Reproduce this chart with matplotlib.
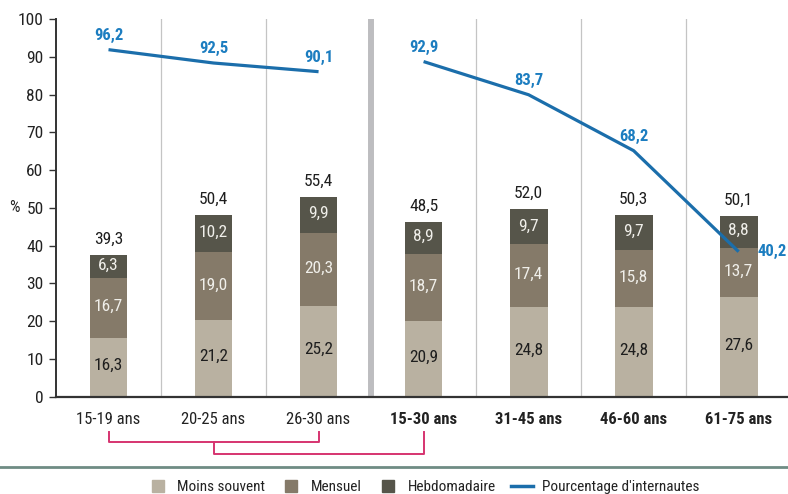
import numpy as np
import matplotlib
matplotlib.use("Agg")
import matplotlib.pyplot as plt
from matplotlib import font_manager
from matplotlib.lines import Line2D

# look for a narrow font, the original uses a condensed face
entries = font_manager.fontManager.ttflist
names = {f.name for f in entries}
FONT, STRETCH, NARROW = 'DejaVu Sans', 'normal', False
for p in ['Liberation Sans Narrow', 'Roboto Condensed', 'Noto Sans Condensed', 'Open Sans Condensed',
          'DejaVu Sans Condensed', 'Noto Sans SemiCondensed', 'Open Sans SemiCondensed']:
    if p in names:
        FONT, NARROW = p, True
        break
if not NARROW:
    for f in entries:
        if str(f.stretch) in ('condensed', 'semi-condensed', 'extra-condensed'):
            FONT, STRETCH, NARROW = f.name, str(f.stretch), True
            break
plt.rcParams['font.family'] = [FONT, 'DejaVu Sans']
plt.rcParams['font.stretch'] = STRETCH
K = 1.0 if NARROW else 0.86

# data
categories = ['15-19 ans', '20-25 ans', '26-30 ans', '15-30 ans', '31-45 ans', '46-60 ans', '61-75 ans']
moins_souvent = [16.3, 21.2, 25.2, 20.9, 24.8, 24.8, 27.6]
mensuel = [16.7, 19.0, 20.3, 18.7, 17.4, 15.8, 13.7]
hebdomadaire = [6.3, 10.2, 9.9, 8.9, 9.7, 9.7, 8.8]
totaux = [39.3, 50.4, 55.4, 48.5, 52.0, 50.3, 50.1]
internautes = [96.2, 92.5, 90.1, 92.9, 83.7, 68.2, 40.2]

C_LIGHT = '#b9b1a1'
C_MID = '#857a69'
C_DARK = '#56554a'
C_BLUE = '#1b6eab'
C_BLUE_TXT = '#1c7dc0'
C_PINK = '#d63470'

# the chart's data sits a bit below the tick scale in the original
TOP = 104.7
def fmt(v):
    return f'{v:.1f}'.replace('.', ',')

fig = plt.figure(figsize=(7.88, 4.94), dpi=100)
ax = fig.add_axes([56/788, 97.3/494, 732/788, 377.7/494])
x = np.arange(len(categories))
w = 0.36

ax.set_xlim(-0.5, 6.47)
ax.set_ylim(0, TOP)

# vertical separators
for xv in [0.5, 1.5, 3.5, 4.5, 5.5]:
    ax.axvline(xv, color='#c4c4c4', lw=0.9, zorder=0)
ax.axvline(2.5, color='#bdbdc0', lw=4.3, zorder=0)

ax.bar(x, moins_souvent, w, color=C_LIGHT, zorder=2)
ax.bar(x, mensuel, w, bottom=moins_souvent, color=C_MID, zorder=2)
bot3 = np.array(moins_souvent) + np.array(mensuel)
ax.bar(x, hebdomadaire, w, bottom=bot3, color=C_DARK, zorder=2)

fs = 12.5 * K
for i in range(len(x)):
    ax.text(x[i], moins_souvent[i] / 2 + 0.5, fmt(moins_souvent[i]), ha='center', va='center',
            fontsize=fs, color='#1e1e1e', zorder=4)
    ax.text(x[i], moins_souvent[i] + mensuel[i] / 2 + 0.3, fmt(mensuel[i]), ha='center', va='center',
            fontsize=fs, color='#f0efea', zorder=4)
    ax.text(x[i], bot3[i] + hebdomadaire[i] / 2 + 0.3, fmt(hebdomadaire[i]), ha='center', va='center',
            fontsize=fs, color='#f0efea', zorder=4)
    ax.annotate(fmt(totaux[i]), (x[i], bot3[i] + hebdomadaire[i]), xytext=(0, 6),
                textcoords='offset points', ha='center', va='bottom', fontsize=fs, color='#1e1e1e')

# line, broken between the two groups
ax.plot(x[:3], internautes[:3], color=C_BLUE, lw=2.3, zorder=5, solid_capstyle='butt')
ax.plot(x[3:], internautes[3:], color=C_BLUE, lw=2.3, zorder=5, solid_capstyle='butt')
for i in range(len(x)):
    if i == len(x) - 1:
        ax.annotate(fmt(internautes[i]), (x[i], internautes[i]), xytext=(13.5, 0),
                    textcoords='offset points', ha='left', va='center', fontsize=12 * K,
                    fontweight='bold', color=C_BLUE_TXT, zorder=6)
    else:
        ax.annotate(fmt(internautes[i]), (x[i], internautes[i]), xytext=(0, 5),
                    textcoords='offset points', ha='center', va='bottom', fontsize=12 * K,
                    fontweight='bold', color=C_BLUE_TXT, zorder=6)

# axes styling
for s in ['top', 'right']:
    ax.spines[s].set_visible(False)
ax.spines['left'].set_color('#333333')
ax.spines['left'].set_linewidth(1.4)
ax.spines['bottom'].set_color('#333333')
ax.spines['bottom'].set_linewidth(1.6)

ticks = np.arange(0, 101, 10)
ax.set_yticks(ticks * TOP / 100)
ax.set_yticklabels([str(t) for t in ticks], fontsize=12.5 * K, color='#222222')
ax.tick_params(axis='y', length=5, width=1, color='#333333', pad=4)
ax.set_xticks(x)
ax.set_xticklabels(categories, fontsize=12 * K, color='#222222')
ax.tick_params(axis='x', length=0, pad=11)
for lbl in ax.get_xticklabels()[3:]:
    lbl.set_fontweight('bold')

ax.text(-0.057, 50 * TOP / 100, '%', transform=ax.get_yaxis_transform(), ha='center', va='center',
        fontsize=12 * K, color='#222222')

# brackets under the labels
tr = ax.get_xaxis_transform()
ax.plot([0, 0, 2, 2], [-0.093, -0.12, -0.12, -0.093], color=C_PINK, lw=1.4,
        transform=tr, clip_on=False)
ax.plot([1, 1, 3, 3], [-0.12, -0.152, -0.152, -0.093], color=C_PINK, lw=1.4,
        transform=tr, clip_on=False)

# separator line above legend
fig.add_artist(Line2D([0, 1], [(494 - 467) / 494] * 2, color='#6f8c84', lw=2))

handles = [Line2D([], [], marker='s', ls='none', color=C_LIGHT, markersize=8),
           Line2D([], [], marker='s', ls='none', color=C_MID, markersize=8),
           Line2D([], [], marker='s', ls='none', color=C_DARK, markersize=8),
           Line2D([], [], color=C_BLUE, lw=2.5)]
fig.legend(handles, ['Moins souvent', 'Mensuel', 'Hebdomadaire', "Pourcentage d'internautes"],
           loc='center', bbox_to_anchor=(0.537, (494 - 487) / 494), ncol=4, frameon=False,
           fontsize=11 * K, handlelength=1.4, columnspacing=1.0, handletextpad=0.6,
           labelcolor='#222222', borderaxespad=0, borderpad=0)

fig.savefig('out.png', dpi=100)
